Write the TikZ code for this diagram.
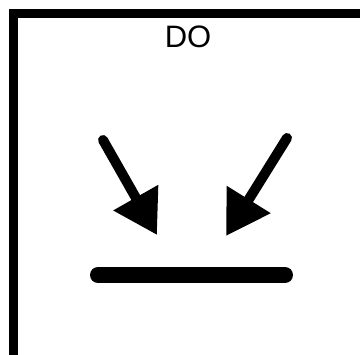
\documentclass[tikz,border=0pt]{standalone}
\usepackage{fontspec}
\setmainfont{Liberation Sans}
\usetikzlibrary{arrows.meta}
\begin{document}
\begin{tikzpicture}[x=1pt,y=-1pt,
  frame/.style={line width=9pt, line join=miter},
  pusharrow/.style={line width=10pt, line cap=round, -{Triangle[length=43pt,width=49pt]}},
  barline/.style={line width=16pt, line cap=round},
  lbl/.style={font=\fontsize{31}{31}\selectfont, inner sep=0pt}]
\useasboundingbox (0,0) rectangle (360,355);
\draw[frame] (360,13.5) -- (13.5,13.5) -- (13.5,356);
\node[lbl] (title) at (188,37) {DO};
\coordinate (lt) at (103,140);
\coordinate (lh) at (157,235);
\coordinate (rt) at (287,138);
\coordinate (rh) at (226,236);
\coordinate (bl) at (98,275);
\coordinate (br) at (285,275);
\draw[pusharrow] (lt) -- (lh);
\draw[pusharrow] (rt) -- (rh);
\draw[barline] (bl) -- (br);
\end{tikzpicture}
\end{document}
